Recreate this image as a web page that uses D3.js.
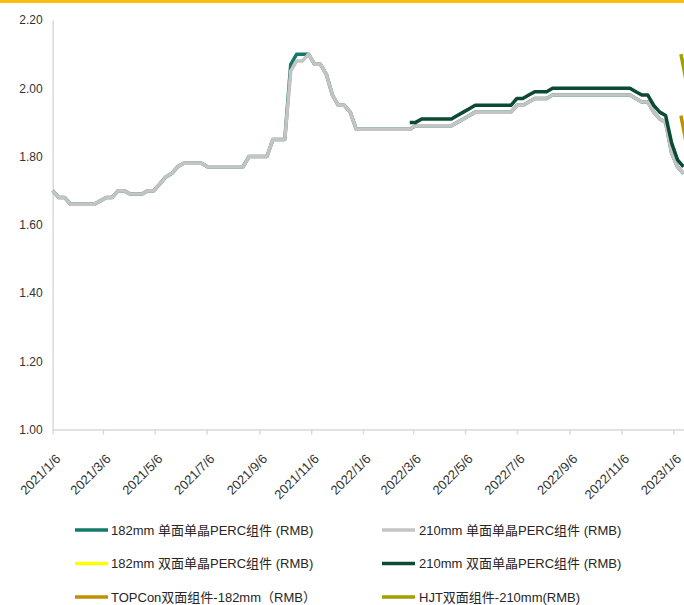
<!DOCTYPE html>
<html>
<head>
<meta charset="utf-8">
<script src="https://cdn.jsdelivr.net/npm/d3@7"></script>
<style>
  body { margin: 0; background: #fff; }
  svg { display: block; font-family: "Liberation Sans", "Noto Sans CJK SC", sans-serif; }
</style>
</head>
<body>
<svg></svg>
<script>
// weekly prices, one value per Wednesday starting 2021/1/6 (null = no quote)
var firstWeek = "2021-01-06";

var mono182 = [
  1.70, 1.68, 1.68, 1.66, 1.66, 1.66, 1.66, 1.66, 1.67, 1.68,
  1.68, 1.70, 1.70, 1.69, 1.69, 1.69, 1.70, 1.70, 1.72, 1.74,
  1.75, 1.77, 1.78, 1.78, 1.78, 1.78, 1.77, 1.77, 1.77, 1.77,
  1.77, 1.77, 1.77, 1.80, 1.80, 1.80, 1.80, 1.85, 1.85, 1.85,
  2.07, 2.10, 2.10, 2.10, 2.07, 2.07, 2.04, 1.98, 1.95, 1.95,
  1.93, 1.88, 1.88, 1.88, 1.88, 1.88, 1.88, 1.88, 1.88, 1.88,
  1.88, 1.89, 1.89, 1.89, 1.89, 1.89, 1.89, 1.89, 1.90, 1.91,
  1.92, 1.93, 1.93, 1.93, 1.93, 1.93, 1.93, 1.93, 1.95, 1.95,
  1.96, 1.97, 1.97, 1.97, 1.98, 1.98, 1.98, 1.98, 1.98, 1.98,
  1.98, 1.98, 1.98, 1.98, 1.98, 1.98, 1.98, 1.98, 1.97, 1.96,
  1.96, 1.93, 1.91, 1.90, 1.81, 1.77, 1.75
];

var mono210 = [
  1.70, 1.68, 1.68, 1.66, 1.66, 1.66, 1.66, 1.66, 1.67, 1.68,
  1.68, 1.70, 1.70, 1.69, 1.69, 1.69, 1.70, 1.70, 1.72, 1.74,
  1.75, 1.77, 1.78, 1.78, 1.78, 1.78, 1.77, 1.77, 1.77, 1.77,
  1.77, 1.77, 1.77, 1.80, 1.80, 1.80, 1.80, 1.85, 1.85, 1.85,
  2.05, 2.08, 2.08, 2.10, 2.07, 2.07, 2.04, 1.98, 1.95, 1.95,
  1.93, 1.88, 1.88, 1.88, 1.88, 1.88, 1.88, 1.88, 1.88, 1.88,
  1.88, 1.89, 1.89, 1.89, 1.89, 1.89, 1.89, 1.89, 1.90, 1.91,
  1.92, 1.93, 1.93, 1.93, 1.93, 1.93, 1.93, 1.93, 1.95, 1.95,
  1.96, 1.97, 1.97, 1.97, 1.98, 1.98, 1.98, 1.98, 1.98, 1.98,
  1.98, 1.98, 1.98, 1.98, 1.98, 1.98, 1.98, 1.98, 1.97, 1.96,
  1.96, 1.93, 1.91, 1.90, 1.81, 1.77, 1.75
];

// not visible anywhere in the picture
var bifacial182 = [];

var bifacial210 = [
  null, null, null, null, null, null, null, null, null, null,
  null, null, null, null, null, null, null, null, null, null,
  null, null, null, null, null, null, null, null, null, null,
  null, null, null, null, null, null, null, null, null, null,
  null, null, null, null, null, null, null, null, null, null,
  null, null, null, null, null, null, null, null, null, null,
  1.90, 1.90, 1.91, 1.91, 1.91, 1.91, 1.91, 1.91, 1.92, 1.93,
  1.94, 1.95, 1.95, 1.95, 1.95, 1.95, 1.95, 1.95, 1.97, 1.97,
  1.98, 1.99, 1.99, 1.99, 2.00, 2.00, 2.00, 2.00, 2.00, 2.00,
  2.00, 2.00, 2.00, 2.00, 2.00, 2.00, 2.00, 2.00, 1.99, 1.98,
  1.98, 1.95, 1.93, 1.92, 1.84, 1.79, 1.77
];

// the two new series only start at the very right edge
var newDates = ["2023-01-15", "2023-01-22"];
var topcon182 = [1.92, 1.83];
var hjt210 = [2.10, 2.01];

var xTickLabels = ["2021/1/6", "2021/3/6", "2021/5/6", "2021/7/6", "2021/9/6", "2021/11/6",
  "2022/1/6", "2022/3/6", "2022/5/6", "2022/7/6", "2022/9/6", "2022/11/6", "2023/1/6"];
var yTicks = [1.00, 1.20, 1.40, 1.60, 1.80, 2.00, 2.20];

var seriesNames = [
  "182mm 单面单晶PERC组件 (RMB)",
  "210mm 单面单晶PERC组件 (RMB)",
  "182mm 双面单晶PERC组件 (RMB)",
  "210mm 双面单晶PERC组件 (RMB)",
  "TOPCon双面组件-182mm（RMB）",
  "HJT双面组件-210mm(RMB)"
];
var seriesColors = ["#15786a", "#c4c4c4", "#ffff00", "#0c4a34", "#bf9000", "#a0a000"];

function chart() {
  var svg = d3.select("svg")
      .attr("width", 684)
      .attr("height", 605);

  var parseIso = d3.timeParse("%Y-%m-%d");
  var parseSlash = d3.timeParse("%Y/%m/%d");
  var start = parseIso(firstWeek);

  function weekly(values) {
    return values.map(function(v, i) {
      return {date: d3.timeDay.offset(start, 7 * i), value: v};
    });
  }
  function dated(dates, values) {
    return values.map(function(v, i) {
      return {date: parseIso(dates[i]), value: v};
    });
  }

  var x = d3.scaleTime()
      .domain([start, parseIso("2023-01-20")])
      .range([52.7, 685.2]);
  var y = d3.scaleLinear()
      .domain([1, 2.2])
      .range([429.5, 20]);

  // top banner
  svg.append("rect")
      .attr("x", 0).attr("y", 0)
      .attr("width", 684).attr("height", 3)
      .attr("fill", "#fcbc12");

  // y axis
  var yAxis = svg.append("g")
      .attr("transform", "translate(52.7,0)")
      .call(d3.axisLeft(y)
        .tickValues(yTicks)
        .tickFormat(d3.format(".2f"))
        .tickSize(0)
        .tickPadding(10));
  yAxis.select(".domain").attr("stroke", "#d9d9d9").attr("stroke-width", 1.5);
  yAxis.selectAll("text").attr("font-size", 12).attr("fill", "#333");

  // x axis
  var xAxis = svg.append("g")
      .attr("transform", "translate(0," + y(1) + ")")
      .call(d3.axisBottom(x)
        .tickValues(xTickLabels.map(parseSlash))
        .tickFormat(d3.timeFormat("%Y/%-m/%-d"))
        .tickSize(5)
        .tickSizeOuter(0));
  xAxis.select(".domain").attr("stroke", "#d9d9d9").attr("stroke-width", 1.5);
  xAxis.selectAll(".tick line").attr("stroke", "#d9d9d9").attr("stroke-width", 1.5);
  xAxis.selectAll("text")
      .attr("font-size", 13)
      .attr("fill", "#333")
      .attr("text-anchor", "end")
      .attr("x", 0).attr("y", 0)
      .attr("dy", "0.35em")
      .attr("transform", "translate(5,27) rotate(-45)");

  var line = d3.line()
      .defined(function(d) { return d.value != null; })
      .x(function(d) { return x(d.date); })
      .y(function(d) { return y(d.value); });

  var allSeries = [
    weekly(mono182),
    weekly(mono210),
    weekly(bifacial182),
    weekly(bifacial210),
    dated(newDates, topcon182),
    dated(newDates, hjt210)
  ];

  svg.append("g").selectAll("path")
      .data(allSeries)
      .enter().append("path")
      .attr("fill", "none")
      .attr("stroke", function(d, i) { return seriesColors[i]; })
      .attr("stroke-width", 3.5)
      .attr("stroke-linejoin", "round")
      .attr("d", line);

  // legend, 2 columns x 3 rows
  var legend = svg.append("g").selectAll("g")
      .data(seriesNames)
      .enter().append("g")
      .attr("transform", function(d, i) {
        var col = i % 2, row = Math.floor(i / 2);
        return "translate(" + (col ? 382 : 75) + "," + (530 + row * 33.5) + ")";
      });
  legend.append("line")
      .attr("x1", 0).attr("x2", 33)
      .attr("stroke", function(d, i) { return seriesColors[i]; })
      .attr("stroke-width", 3.5);
  legend.append("text")
      .attr("x", function(d, i) { return i % 2 ? 37 : 36; })
      .attr("dy", "0.35em")
      .attr("font-size", 13)
      .attr("fill", "#262626")
      .text(function(d) { return d; });
}

chart();
</script>
</body>
</html>
